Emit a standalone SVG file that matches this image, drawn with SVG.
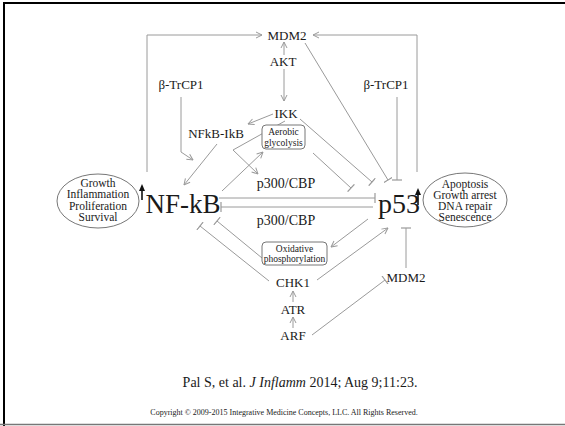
<svg xmlns="http://www.w3.org/2000/svg" width="565" height="426" viewBox="0 0 565 426">
<defs>
<style>
text{font-family:"Liberation Serif","Times New Roman",serif;fill:#1a1a1a;text-anchor:middle}
.lbl{font-size:13px}
.big{font-size:27px}
.ell{font-size:11.5px}
.box{font-size:9.5px}
.c{fill:none;stroke:#9a9a9a;stroke-width:1}
.a{marker-end:url(#arr)}
.t{marker-end:url(#tee)}
.node{fill:#fff;stroke:#777;stroke-width:1}
</style>
<marker id="arr" viewBox="0 0 8 8" refX="7.5" refY="4" markerWidth="8" markerHeight="8" markerUnits="userSpaceOnUse" orient="auto"><path d="M1.5,1 L7.5,4 L1.5,7" fill="none" stroke="#9a9a9a" stroke-width="1"/></marker>
<marker id="tee" viewBox="0 0 2 10" refX="1" refY="5" markerWidth="2" markerHeight="10" markerUnits="userSpaceOnUse" orient="auto"><line x1="1" y1="0" x2="1" y2="10" stroke="#9a9a9a" stroke-width="1.2"/></marker>
</defs>
<rect width="565" height="426" fill="#fff"/>
<g id="frame">
<line x1="3" y1="3" x2="565" y2="3" stroke="#000" stroke-width="2"/>
<line x1="4" y1="2" x2="4" y2="426" stroke="#000" stroke-width="2"/>
<line x1="0" y1="424.5" x2="565" y2="424.5" stroke="#777" stroke-width="1.5"/>
</g>
<g id="connectors">
<path class="c a" d="M147,172 V35 H262"/>
<path class="c a" d="M417,172 V35 H313"/>
<path class="c a" d="M284,55 V42"/>
<path class="c a" d="M284,69 V101"/>
<path class="c a" d="M181,97 V152 L193,160"/>
<path class="c t" d="M397,97 V180"/>
<path class="c t" d="M305,43 L388,180"/>
<path class="c a" d="M273,114 L248,124"/>
<path class="c t" d="M300,119 L372,182"/>
<path class="c a" d="M285,121 L233,150 L258,174"/>
<path class="c a" d="M217,144 L184,185"/>
<path class="c a" d="M222,191 L263,152"/>
<path class="c t" d="M313,153 L351,188"/>
<path class="c t" d="M219,198 H375"/>
<path class="c t" d="M373,207 H221"/>
<path class="c a" d="M368,219 L331,247"/>
<path class="c t" d="M262,258 L217,221"/>
<path class="c t" d="M269,281 L200,226"/>
<path class="c a" d="M317,280 L388,228"/>
<path class="c a" d="M293,302 V291"/>
<path class="c a" d="M293,328 V317"/>
<path class="c t" d="M312,335 L385,280"/>
<path class="c t" d="M406,268 V228"/>
</g>
<g id="mdm2-top"><text class="lbl" x="287" y="40">MDM2</text></g>
<g id="akt"><text class="lbl" x="283" y="66">AKT</text></g>
<g id="btrcp1-left"><text class="lbl" x="181" y="89">β-TrCP1</text></g>
<g id="btrcp1-right"><text class="lbl" x="386" y="89">β-TrCP1</text></g>
<g id="ikk"><text class="lbl" x="286" y="118">IKK</text></g>
<g id="nfkb-ikb"><text class="lbl" x="216" y="138">NFkB-IkB</text></g>
<g id="aerobic"><rect class="node" x="262" y="125" width="43" height="24" rx="4"/><text class="box" x="283.5" y="135">Aerobic</text><text class="box" x="283.5" y="146">glycolysis</text></g>
<g id="p300-top"><text class="lbl" x="286" y="188" style="font-size:14px">p300/CBP</text></g>
<g id="p300-bottom"><text class="lbl" x="286" y="225" style="font-size:14px">p300/CBP</text></g>
<g id="nfkb"><text class="big" x="183" y="213">NF-kB</text>
<path d="M142,200 V189" stroke="#111" stroke-width="1.6"/><polygon points="142,184 139,191 145,191" fill="#111"/></g>
<g id="p53"><text class="big" x="399" y="213" style="font-size:28px">p53</text>
<path d="M418,205 V193" stroke="#111" stroke-width="1.6"/><polygon points="418,188 415,195 421,195" fill="#111"/></g>
<g id="nfkb-outcomes"><ellipse class="node" cx="98" cy="201" rx="41" ry="27"/>
<text class="ell" x="98" y="187">Growth</text><text class="ell" x="98" y="198">Inflammation</text><text class="ell" x="98" y="210">Proliferation</text><text class="ell" x="98" y="221">Survival</text></g>
<g id="p53-outcomes"><ellipse class="node" cx="465" cy="200" rx="42" ry="27"/>
<text class="ell" x="465" y="188">Apoptosis</text><text class="ell" x="465" y="199">Growth arrest</text><text class="ell" x="465" y="210">DNA repair</text><text class="ell" x="465" y="221">Senescence</text></g>
<g id="oxidative"><rect class="node" x="262" y="242" width="65" height="23" rx="4"/><text class="box" x="294.5" y="252">Oxidative</text><text class="box" x="294.5" y="262">phosphorylation</text></g>
<g id="chk1"><text class="lbl" x="293" y="287">CHK1</text></g>
<g id="atr"><text class="lbl" x="293" y="314">ATR</text></g>
<g id="arf"><text class="lbl" x="293" y="340">ARF</text></g>
<g id="mdm2-bottom"><text class="lbl" x="406" y="282">MDM2</text></g>
<g id="footer">
<text x="300" y="387" style="font-size:14px">Pal S, et al. <tspan font-style="italic">J Inflamm</tspan> 2014; Aug 9;11:23.</text>
<text x="284" y="415" style="font-size:8px">Copyright © 2009-2015 Integrative Medicine Concepts, LLC. All Rights Reserved.</text>
</g>
</svg>
